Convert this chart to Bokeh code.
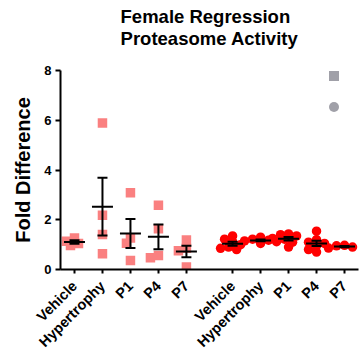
import numpy as np
from bokeh.plotting import figure
from bokeh.models import Range1d, FixedTicker, Legend, LegendItem, Title
from bokeh.embed import file_html
from bokeh.resources import INLINE
from bokeh.core.properties import value

# ---------------- data ----------------
categories = ["Vehicle", "Hypertrophy", "P1", "P4", "P7"]

# series 1 (pink squares)
sq_vehicle = [1.14, 0.96, 1.27, 1.05]
sq_hypertrophy = [5.89, 2.18, 1.41, 0.63]
sq_p1 = [3.09, 1.27, 1.06, 0.36]
sq_p4 = [2.58, 1.64, 0.47, 0.56]
sq_p7 = [1.19, 0.85, 0.75, 0.10]

# series 2 (red circles)
ci_vehicle = [1.35, 1.22, 1.12, 1.00, 0.90, 0.80, 0.85]
ci_hypertrophy = [1.30, 1.22, 1.18, 1.12, 1.05, 1.15]
ci_p1 = [1.43, 1.40, 1.35, 1.22, 1.10, 0.90, 1.25]
ci_p4 = [1.54, 1.20, 1.10, 1.05, 0.95, 0.80, 0.70]
ci_p7 = [0.97, 0.95, 0.90, 0.86]

y_ticks = [0, 2, 4, 6, 8]
title_text = "Female Regression\nProteasome Activity"

series = [
    dict(values=[sq_vehicle, sq_hypertrophy, sq_p1, sq_p4, sq_p7], marker="square", color="#FA8080"),
    dict(values=[ci_vehicle, ci_hypertrophy, ci_p1, ci_p4, ci_p7], marker="circle", color="#FF0000"),
]

# ---------------- layout ----------------
GROUP_SHIFT = 5.65
FRAME_W, FRAME_H = 298, 199
X0, X1 = -0.5, 4 + GROUP_SHIFT + 0.5
Y0, Y1 = 0, 8
px_x = FRAME_W / (X1 - X0)
px_y = FRAME_H / (Y1 - Y0)

FONT = "Liberation Sans"

p = figure(width=361, height=355, frame_width=FRAME_W, frame_height=FRAME_H,
           x_range=Range1d(X0, X1), y_range=Range1d(Y0, Y1),
           output_backend="svg", toolbar_location=None, title_location=None,
           min_border_left=60, min_border_right=3, min_border_top=70, min_border_bottom=86)
p.background_fill_color = None
p.border_fill_color = "white"
p.outline_line_color = None
p.grid.visible = False

# spacer between title and frame, then the two-line title
p.add_layout(Title(text=" ", text_font_size="1px", standoff=18), "above")
p.add_layout(Title(text=title_text, align="center", text_font=FONT,
                   text_font_size="18.5px", text_font_style="bold",
                   text_color="black", text_line_height=1.06, standoff=0), "above")


def swarm(vals, thresh=5.5, step=4.0):
    """deterministic beeswarm offsets in pixels"""
    order = np.argsort(vals)[::-1]
    placed = []
    offs = np.zeros(len(vals))
    for i in order:
        vy = vals[i] * px_y
        cands = [0.0]
        for m in range(1, 6):
            cands += [-m * step, m * step]
        for c in cands:
            ok = True
            for (ox, oy) in placed:
                if np.hypot(ox - c, oy - vy) < thresh:
                    ok = False
                    break
            if ok:
                offs[i] = c
                break
        placed.append((offs[i], vy))
    return offs


tick_pos = []
tick_lab = {}
for g, s in enumerate(series):
    xs, ys = [], []
    mx, mean, lo, hi = [], [], [], []
    for i, vals in enumerate(s["values"]):
        xc = i + g * GROUP_SHIFT
        tick_pos.append(xc)
        tick_lab[xc] = categories[i]
        v = np.array(vals, dtype=float)
        offs = swarm(v)
        xs += list(xc + offs / px_x)
        ys += list(v)
        m = v.mean()
        sem = v.std(ddof=1) / np.sqrt(len(v))
        mx.append(xc)
        mean.append(m)
        lo.append(m - sem)
        hi.append(m + sem)
    p.scatter(xs, ys, marker=s["marker"], size=9.5, fill_color=s["color"],
              line_color=None)
    p.segment(x0=mx, y0=lo, x1=mx, y1=hi, line_color="black", line_width=2)
    p.scatter(mx, mean, marker="dash", size=21, line_color="black", line_width=2)
    p.scatter(mx, lo, marker="dash", size=10, line_color="black", line_width=2)
    p.scatter(mx, hi, marker="dash", size=10, line_color="black", line_width=2)

# legend (symbols only); renderers hold no visible point
leg_sq = p.scatter([0], [float("nan")], marker="square", size=10, fill_color="#A0A0A8", line_color=None)
leg_ci = p.scatter([0], [float("nan")], marker="circle", size=10, fill_color="#A0A0A8", line_color=None)
legend = Legend(items=[LegendItem(label=value(""), renderers=[leg_sq]),
                       LegendItem(label=value(""), renderers=[leg_ci])],
                location=(260.5, 150), orientation="vertical",
                glyph_width=25, glyph_height=25, spacing=6, padding=0,
                label_width=0, label_height=25, label_standoff=0,
                border_line_color=None, background_fill_color=None, margin=0)
p.add_layout(legend, "center")

# axes
for ax in (p.xaxis[0], p.yaxis[0]):
    ax.axis_line_width = 2
    ax.axis_line_color = "black"
    ax.major_tick_line_width = 2
    ax.major_tick_line_color = "black"
    ax.major_tick_out = 5
    ax.major_tick_in = 0
    ax.minor_tick_line_color = None
    ax.major_label_text_font = FONT
    ax.major_label_text_font_style = "bold"
    ax.major_label_text_color = "black"

p.yaxis.ticker = FixedTicker(ticks=y_ticks)
p.yaxis.major_label_text_font_size = "13px"
p.yaxis.major_label_standoff = 4
p.yaxis.axis_label = "Fold Difference"
p.yaxis.axis_label_text_font = FONT
p.yaxis.axis_label_text_font_size = "20px"
p.yaxis.axis_label_text_font_style = "bold"
p.yaxis.axis_label_text_color = "black"
p.yaxis.axis_label_standoff = 7

p.xaxis.ticker = FixedTicker(ticks=tick_pos)
p.xaxis.major_label_overrides = tick_lab
p.xaxis.major_label_orientation = np.pi / 4
p.xaxis.major_label_text_font_size = "14.5px"
p.xaxis.major_label_standoff = 10
p.xaxis.major_tick_out = 4

open("out.html", "w").write(file_html(p, INLINE))
